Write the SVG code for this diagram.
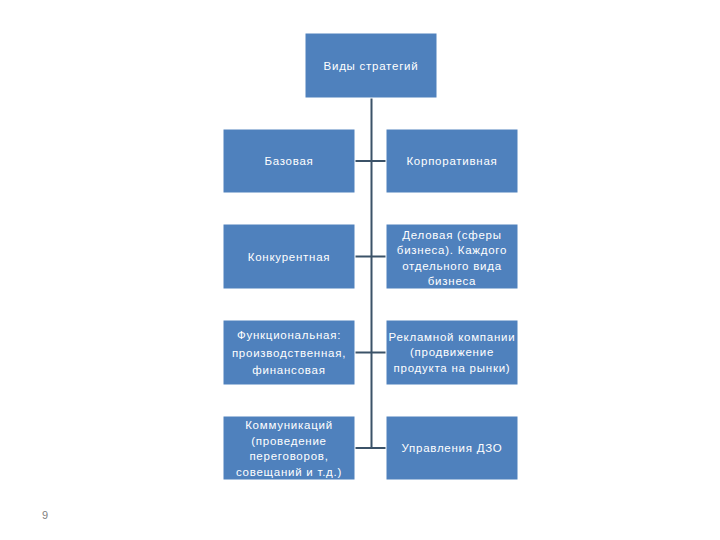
<svg xmlns="http://www.w3.org/2000/svg" width="720" height="540" viewBox="0 0 720 540">
<style>
.box{fill:#4f81bd;stroke:#ffffff;stroke-width:1}
.t{font-family:"Liberation Sans",Arial,sans-serif;font-size:11.5px;letter-spacing:0.75px;fill:#ffffff;text-anchor:middle}
.c{stroke:#3b5268;stroke-width:2;fill:none}
.pg{font-family:"Liberation Sans",Arial,sans-serif;font-size:11px;fill:#7f7f7f}
</style>
<rect width="720" height="540" fill="#ffffff"/>
<g id="connectors">
<line class="c" x1="371.5" y1="98" x2="371.5" y2="449"/>
<line class="c" x1="355" y1="161" x2="386" y2="161"/>
<line class="c" x1="355" y1="256.5" x2="386" y2="256.5"/>
<line class="c" x1="355" y1="352.5" x2="386" y2="352.5"/>
<line class="c" x1="355" y1="448" x2="386" y2="448"/>
</g>
<g id="root">
<rect class="box" x="305" y="33" width="132" height="65"/>
<text class="t" x="371" y="70">Виды стратегий</text>
</g>
<g id="bazovaya">
<rect class="box" x="223" y="129" width="132" height="64"/>
<text class="t" x="289" y="165">Базовая</text>
</g>
<g id="korporativnaya">
<rect class="box" x="386" y="129" width="132" height="64"/>
<text class="t" x="452" y="165">Корпоративная</text>
</g>
<g id="konkurentnaya">
<rect class="box" x="223" y="224" width="132" height="65"/>
<text class="t" x="289" y="261">Конкурентная</text>
</g>
<g id="delovaya">
<rect class="box" x="386" y="224" width="132" height="65"/>
<text class="t" x="452" y="239">Деловая (сферы</text>
<text class="t" x="452" y="254">бизнеса). Каждого</text>
<text class="t" x="452" y="270">отдельного вида</text>
<text class="t" x="452" y="285">бизнеса</text>
</g>
<g id="funktsionalnaya">
<rect class="box" x="223" y="320" width="132" height="65"/>
<text class="t" x="289" y="339">Функциональная:</text>
<text class="t" x="289" y="357">производственная,</text>
<text class="t" x="289" y="374">финансовая</text>
</g>
<g id="reklamnoy">
<rect class="box" x="386" y="320" width="132" height="65"/>
<text class="t" x="452" y="341">Рекламной компании</text>
<text class="t" x="452" y="356">(продвижение</text>
<text class="t" x="452" y="372">продукта на рынки)</text>
</g>
<g id="kommunikatsiy">
<rect class="box" x="223" y="416" width="132" height="64"/>
<text class="t" x="289" y="429">Коммуникаций</text>
<text class="t" x="289" y="445">(проведение</text>
<text class="t" x="289" y="460">переговоров,</text>
<text class="t" x="289" y="476">совещаний и т.д.)</text>
</g>
<g id="upravleniya">
<rect class="box" x="386" y="416" width="132" height="64"/>
<text class="t" x="452" y="452">Управления ДЗО</text>
</g>
<text class="pg" x="42" y="519">9</text>
</svg>
